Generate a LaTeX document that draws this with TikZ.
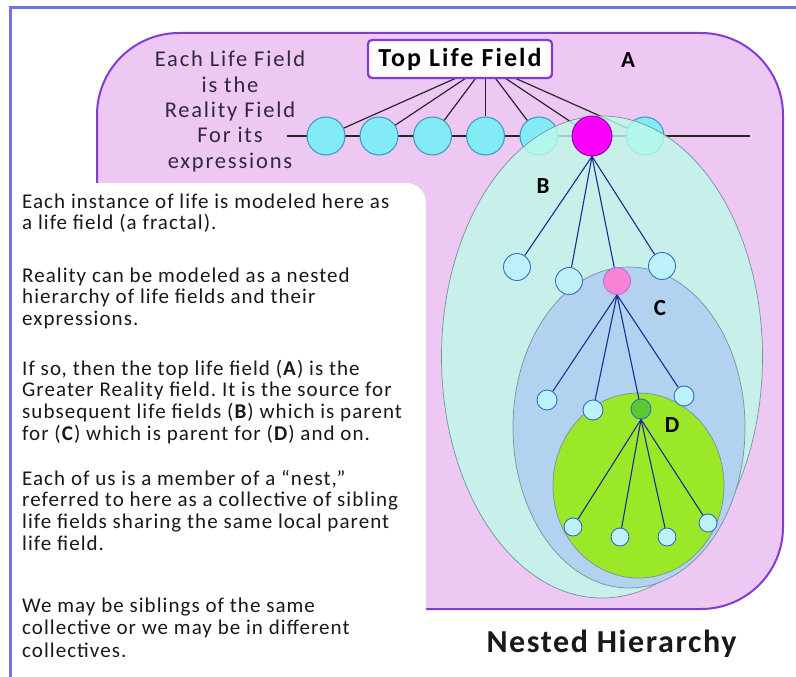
\documentclass[tikz,border=0pt]{standalone}
\usepackage{fontspec}
\setmainfont{Carlito}
\newfontfamily\bodyfont[LetterSpace=5]{Carlito}
\newfontfamily\notefont[LetterSpace=8]{Carlito}
\usetikzlibrary{shapes.geometric}
\definecolor{frameblue}{RGB}{115,115,225}
\definecolor{pinkfill}{RGB}{236,200,242}
\definecolor{pinkborder}{RGB}{130,60,210}
\definecolor{rowfill}{RGB}{130,235,245}
\definecolor{rowborder}{RGB}{60,150,190}
\definecolor{Bfill}{RGB}{191,250,233}
\definecolor{Cfill}{RGB}{178,210,240}
\definecolor{Dfill}{RGB}{155,232,40}
\definecolor{fieldborder}{RGB}{120,145,160}
\definecolor{magfill}{RGB}{250,0,250}
\definecolor{magborder}{RGB}{120,0,140}
\definecolor{pcfill}{RGB}{250,130,215}
\definecolor{gcfill}{RGB}{90,200,50}
\definecolor{smallfill}{RGB}{190,242,250}
\definecolor{smallborder}{RGB}{50,110,200}
\definecolor{blueline}{RGB}{25,45,150}
\definecolor{textgray}{RGB}{25,25,25}
\definecolor{notegray}{RGB}{50,40,60}
\begin{document}
\begin{tikzpicture}[x=1pt,y=-1pt,
  rowcirc/.style={circle, draw=rowborder, fill=rowfill, line width=1pt, minimum size=38pt, inner sep=0},
  magcirc/.style={circle, draw=magborder, fill=magfill, line width=0.8pt, minimum size=40pt, inner sep=0},
  lvtwo/.style={circle, draw=smallborder, fill=smallfill, line width=0.9pt, minimum size=27pt, inner sep=0},
  lvthree/.style={circle, draw=smallborder, fill=smallfill, line width=0.9pt, minimum size=20pt, inner sep=0},
  lvfour/.style={circle, draw=smallborder, fill=smallfill, line width=0.9pt, minimum size=18pt, inner sep=0},
  field/.style={ellipse, inner sep=0, draw=fieldborder, line width=0.7pt},
  fanline/.style={draw=black!85, line width=1.2pt},
  treeline/.style={draw=blueline, line width=1.1pt},
  lettr/.style={font={\notefont\bfseries\fontsize{23}{23}\selectfont}, anchor=base, inner sep=0},
  para/.style={anchor=base west, inner sep=0, text=textgray}
]
\useasboundingbox (0,0) rectangle (796,677);
\fill[white] (0,0) rectangle (796,677);

% pink life field A
\draw[draw=pinkborder, fill=pinkfill, line width=2pt, rounded corners=82pt] (97,33) rectangle (783,609);
% white text panel
\fill[white, rounded corners=20pt] (12,720) -- (12,183) -- (426,183) -- (426,720) -- cycle;

% note text
\node[anchor=base, inner sep=0, text=notegray] (note) at (230,67)
  {\parbox[t]{220pt}{\centering\notefont\fontsize{22.5}{25.3}\selectfont Each Life Field\\ is the\\ Reality Field\\ For its\\ expressions}};

% row
\coordinate (rowL) at (287,136);
\coordinate (rowR) at (750,136);
\coordinate (hub) at (485.5,65);
\draw[fanline] (rowL) -- (rowR);
\node[rowcirc] (c1) at (326,136) {};
\node[rowcirc] (c2) at (379,136) {};
\node[rowcirc] (c3) at (432.5,136) {};
\node[rowcirc] (c4) at (485.5,136) {};
\node[rowcirc] (c5) at (539,136) {};
\node[rowcirc] (c7) at (645,136) {};
\coordinate (c6pos) at (592,136);
\foreach \c in {c1,c2,c3,c4,c5,c7} \draw[fanline] (hub) -- (\c);
\draw[fanline] (hub) -- (c6pos);

% nested fields
\node[field, fill=Bfill, fill opacity=0.8, minimum width=321pt, minimum height=482pt] (fieldB) at (602,357) {};
\node[magcirc] (mag) at (c6pos) {};
\node[field, fill=Cfill, minimum width=232pt, minimum height=321pt] (fieldC) at (629,427.5) {};
\node[field, fill=Dfill, minimum width=171pt, minimum height=185pt] (fieldD) at (638.5,485.5) {};

% level 2
\node[lvtwo] (b1) at (517,267) {};
\node[lvtwo] (b2) at (569,281) {};
\node[lvtwo, fill=pcfill, draw=pinkborder!70] (pc) at (617,281) {};
\node[lvtwo] (b4) at (662,266) {};
\foreach \c in {b1,b2,pc,b4} \draw[treeline] (mag.south) -- (\c);

% level 3
\node[lvthree] (l1) at (547,400) {};
\node[lvthree] (l2) at (593,410) {};
\node[lvthree, fill=gcfill] (gc) at (641,409) {};
\node[lvthree] (l4) at (684,396) {};
\foreach \c in {l1,l2,gc,l4} \draw[treeline] (pc.south) -- (\c);

% level 4
\node[lvfour] (d1) at (573,527) {};
\node[lvfour] (d2) at (620,537) {};
\node[lvfour] (d3) at (667,537) {};
\node[lvfour] (d4) at (708,523) {};
\foreach \c in {d1,d2,d3,d4} \draw[treeline] (gc.south) -- (\c);

% labels
\node[lettr] (labA) at (628,68) {A};
\node[lettr] (labB) at (543,193) {B};
\node[lettr] (labC) at (660,315) {C};
\node[lettr] (labD) at (672,432) {D};

% top box
\node[draw=pinkborder, line width=2.2pt, fill=white, rounded corners=4pt, minimum width=184pt, minimum height=38pt, inner sep=0,
  font={\notefont\bfseries\fontsize{26}{26}\selectfont}] (top) at (460,59) {Top Life Field};

% title
\node[anchor=base, inner sep=0, text=textgray, font={\bodyfont\bfseries\fontsize{32}{32}\selectfont}] (title) at (611.5,652) {Nested Hierarchy};

% left paragraphs
\node[para] (p1) at (22,208) {\parbox[t]{500pt}{\raggedright\bodyfont\fontsize{21}{21.7}\selectfont
Each instance of life is modeled here as\\ a life field (a fractal).}};
\node[para] (p2) at (22,282) {\parbox[t]{500pt}{\raggedright\bodyfont\fontsize{21}{21.7}\selectfont
Reality can be modeled as a nested\\ hierarchy of life fields and their\\ expressions.}};
\node[para] (p3) at (22,375) {\parbox[t]{500pt}{\raggedright\bodyfont\fontsize{21}{21.7}\selectfont
If so, then the top life field (\textbf{A}) is the\\ Greater Reality field.\ It is the source for\\ subsequent life fields (\textbf{B}) which is parent\\ for (\textbf{C}) which is parent for (\textbf{D}) and on.}};
\node[para] (p4) at (22,485) {\parbox[t]{500pt}{\raggedright\bodyfont\fontsize{21}{21.7}\selectfont
Each of us is a member of a “nest,”\\ referred to here as a collective of sibling\\ life fields sharing the same local parent\\ life field.}};
\node[para] (p5) at (22,612) {\parbox[t]{500pt}{\raggedright\bodyfont\fontsize{21}{22.5}\selectfont
We may be siblings of the same\\ collective or we may be in different\\ collectives.}};

% outer frame
\draw[frameblue, line width=3pt] (796,8) -- (10,8) -- (10,677);
\end{tikzpicture}
\end{document}
